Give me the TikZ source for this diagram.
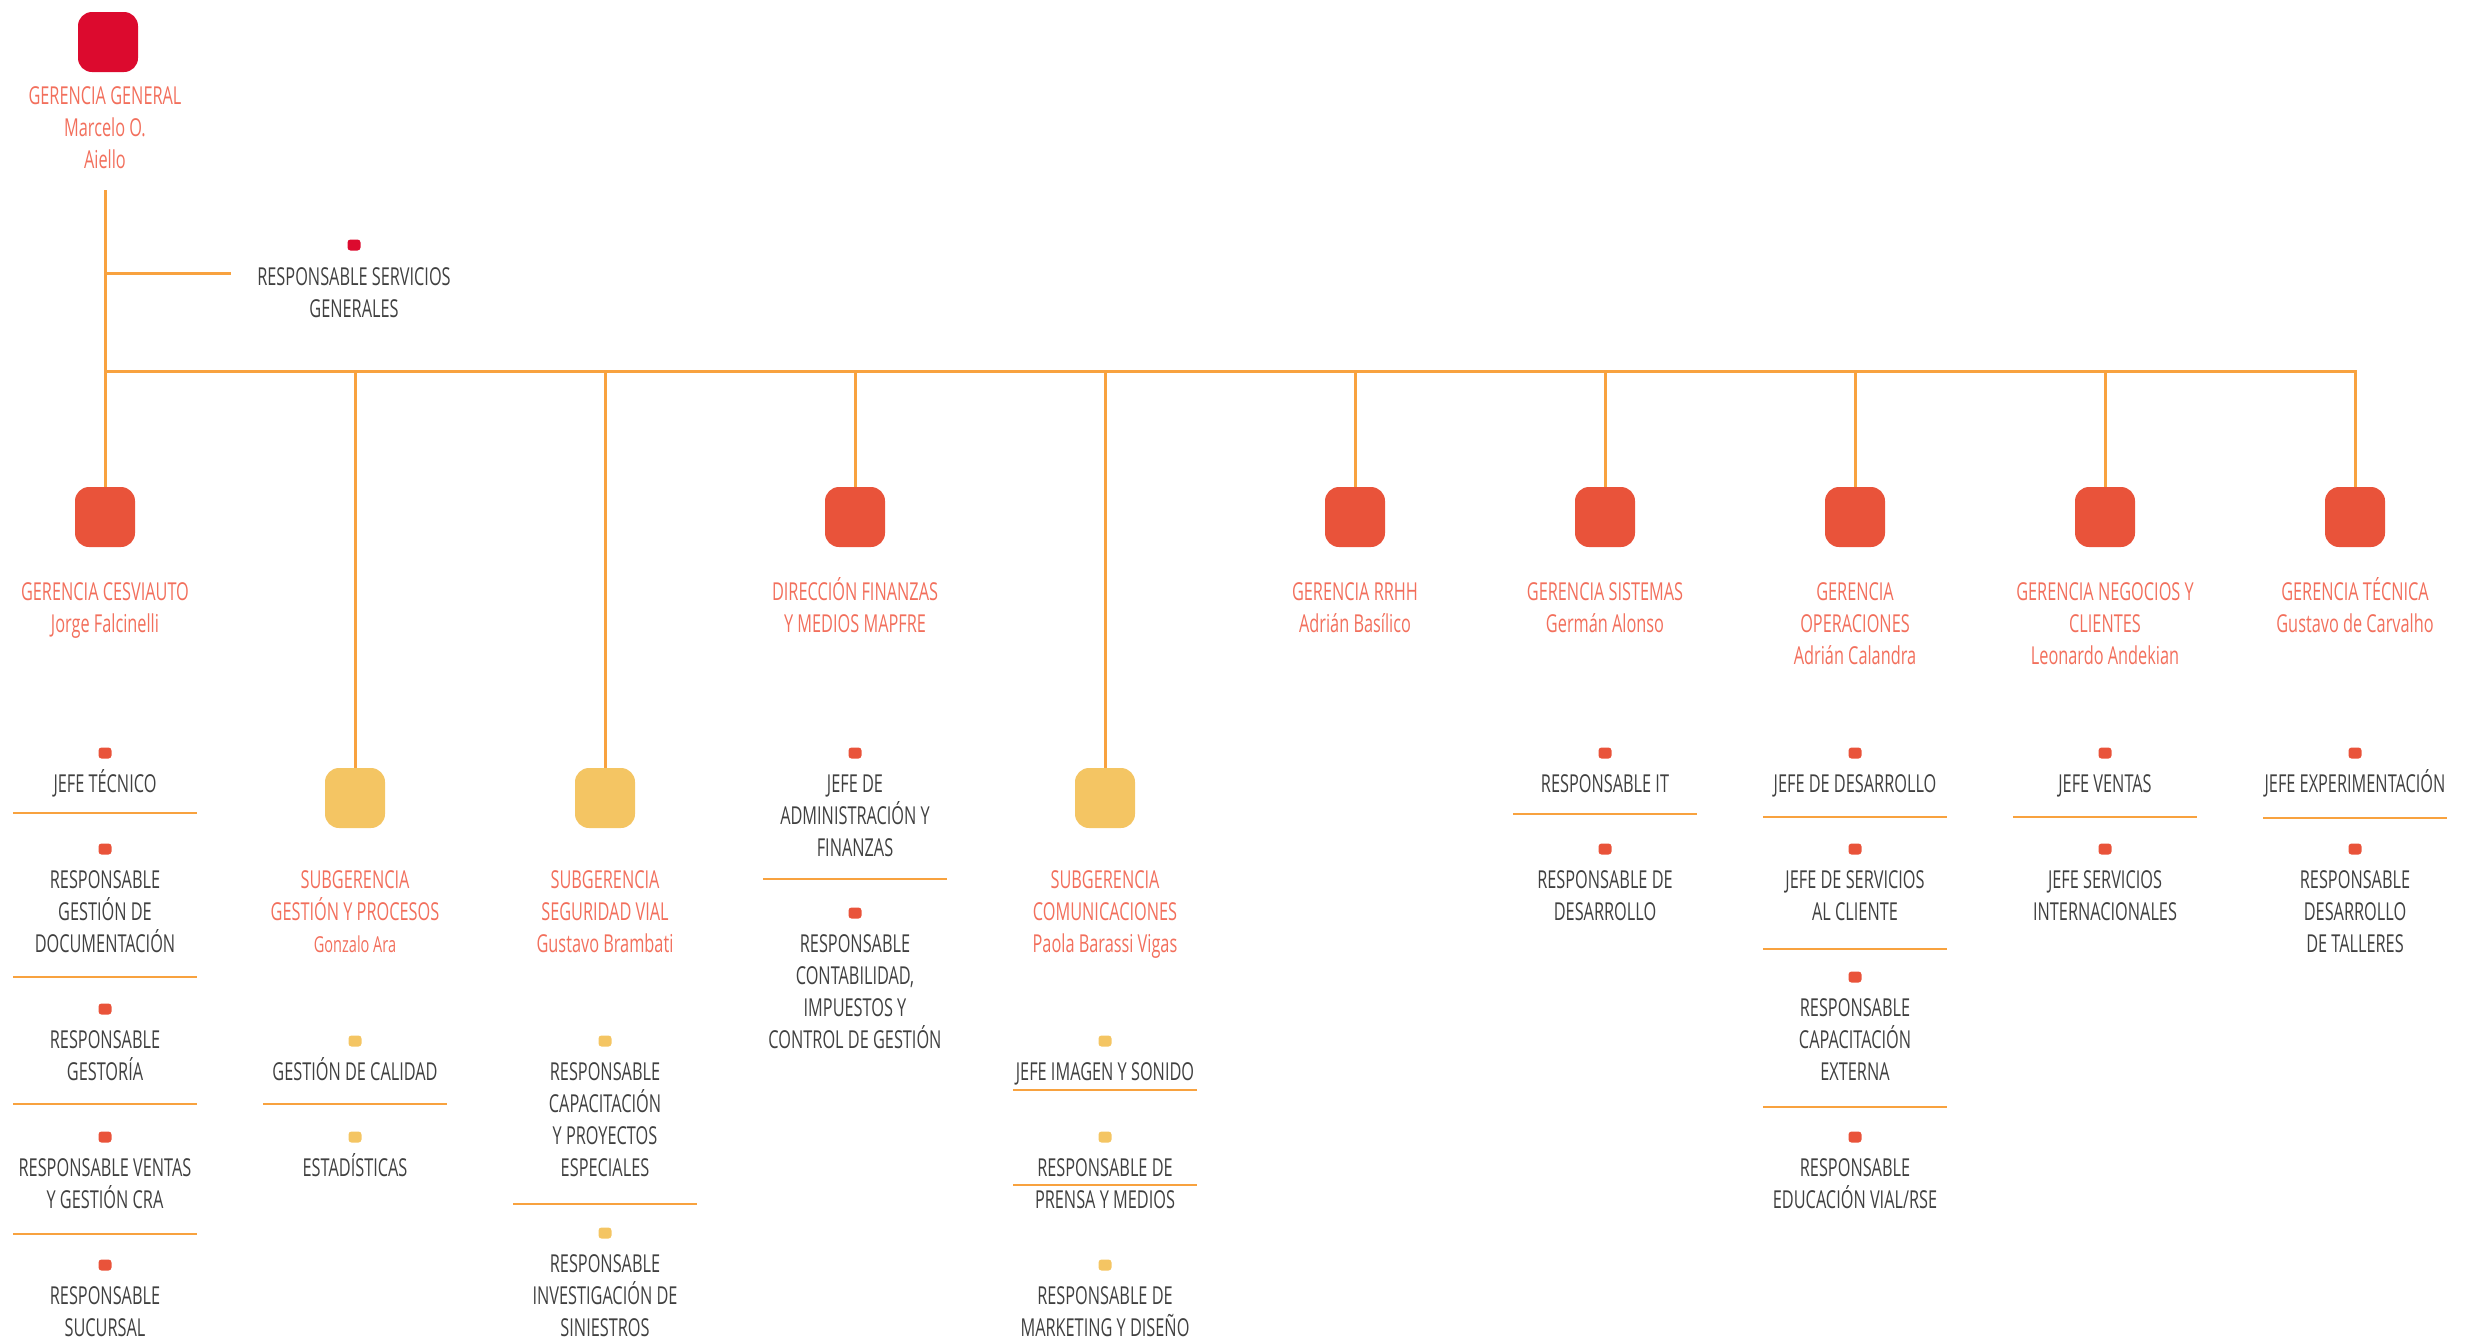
\documentclass[tikz,border=0pt]{standalone}
\usepackage{fontspec}
\setmainfont{Open Sans}[FakeStretch=0.66]
\usetikzlibrary{positioning}

\definecolor{crimson}{HTML}{DC0A2E}
\definecolor{brick}{HTML}{E9533A}
\definecolor{sand}{HTML}{F4C563}
\definecolor{salmon}{HTML}{F26F5C}
\definecolor{wire}{HTML}{F8A23F}
\definecolor{ink}{HTML}{404040}

% strut that fixes the top of the first line
\newcommand\lead{\rule{0pt}{13pt}}

\begin{document}
\begin{tikzpicture}[
  x=0.5pt, y=-0.5pt,
  unitbox/.style={rounded corners=7pt, minimum size=30pt, inner sep=0pt, fill=brick},
  subbox/.style={unitbox, fill=sand},
  pip/.style={rounded corners=1.5pt, minimum width=6.5pt, minimum height=5.5pt, inner sep=0pt, fill=brick},
  txt/.style={anchor=north, yshift=8.6pt, align=center, inner sep=0pt, text=ink,
    font=\fontsize{12.35}{16}\selectfont},
  title/.style={txt, text=salmon},
  link/.style={wire, line width=1.5pt},
  divider/.style={wire, line width=1pt}
  ]
  \useasboundingbox (0,0) rectangle (2484,1340);

  % top of the chart
  \node[unitbox, fill=crimson] (gg) at (108,42) {};
  \node[title] (ggtxt) at (105,95) {\lead GERENCIA GENERAL\\Marcelo O.\\Aiello};
  \coordinate (root) at (105,190);
  \coordinate (bus) at (105,371);

  % staff position
  \coordinate (sgtap) at (105,273);
  \coordinate (sgend) at (231,273);
  \node[pip, fill=crimson] (sgpip) at (354,245) {};
  \node[txt] (sgtxt) at (354,276) {\lead RESPONSABLE SERVICIOS\\GENERALES};

  % second level
  \node[unitbox] (cesv) at (105,517) {};
  \node[title] at (105,591) {\lead GERENCIA CESVIAUTO\\Jorge Falcinelli};
  \node[subbox] (gyp) at (355,798) {};
  \node[title] at (355,879) {\lead SUBGERENCIA\\GESTIÓN Y PROCESOS\\{\fontsize{11}{16}\selectfont Gonzalo Ara}};
  \node[subbox] (svial) at (605,798) {};
  \node[title] at (605,879) {\lead SUBGERENCIA\\SEGURIDAD VIAL\\Gustavo Brambati};
  \node[unitbox] (fin) at (855,517) {};
  \node[title] at (855,591) {\lead DIRECCIÓN FINANZAS\\Y MEDIOS MAPFRE};
  \node[subbox] (com) at (1105,798) {};
  \node[title] at (1105,879) {\lead SUBGERENCIA\\COMUNICACIONES\\Paola Barassi Vigas};
  \node[unitbox] (rrhh) at (1355,517) {};
  \node[title] at (1355,591) {\lead GERENCIA RRHH\\Adrián Basílico};
  \node[unitbox] (sis) at (1605,517) {};
  \node[title] at (1605,591) {\lead GERENCIA SISTEMAS\\Germán Alonso};
  \node[unitbox] (ope) at (1855,517) {};
  \node[title] at (1855,591) {\lead GERENCIA\\OPERACIONES\\Adrián Calandra};
  \node[unitbox] (neg) at (2105,517) {};
  \node[title] at (2105,591) {\lead GERENCIA NEGOCIOS Y\\CLIENTES\\Leonardo Andekian};
  \node[unitbox] (tec) at (2355,517) {};
  \node[title] at (2355,591) {\lead GERENCIA TÉCNICA\\Gustavo de Carvalho};

  % connectors
  \draw[link] (root) -- (cesv.north);
  \draw[link] (sgtap) -- (sgend);
  \draw[link] (bus) -- (tec.north |- bus) -- (tec.north);
  \foreach \n in {gyp, svial, fin, com, rrhh, sis, ope, neg}
    \draw[link] (\n.north |- bus) -- (\n.north);

  % positions under each area
  \foreach \y/\t [count=\i] in {753/{JEFE TÉCNICO},
      849/{RESPONSABLE\\GESTIÓN DE\\DOCUMENTACIÓN},
      1009/{RESPONSABLE\\GESTORÍA},
      1137/{RESPONSABLE VENTAS\\Y GESTIÓN CRA},
      1265/{RESPONSABLE\\SUCURSAL}} {
    \node[pip] (cesvp\i) at (105,\y) {};
    \node[txt] (cesvt\i) at (105,\y+30) {\lead\t};
  }
  \foreach \y/\t [count=\i] in {1041/{GESTIÓN DE CALIDAD}, 1137/{ESTADÍSTICAS}} {
    \node[pip, fill=sand] (gypp\i) at (355,\y) {};
    \node[txt] (gypt\i) at (355,\y+30) {\lead\t};
  }
  \foreach \y/\t [count=\i] in {1041/{RESPONSABLE\\CAPACITACIÓN\\Y PROYECTOS\\ESPECIALES},
      1233/{RESPONSABLE\\INVESTIGACIÓN DE\\SINIESTROS}} {
    \node[pip, fill=sand] (svialp\i) at (605,\y) {};
    \node[txt] (svialt\i) at (605,\y+30) {\lead\t};
  }
  \foreach \y/\t [count=\i] in {753/{JEFE DE\\ADMINISTRACIÓN Y\\FINANZAS},
      913/{RESPONSABLE\\CONTABILIDAD,\\IMPUESTOS Y\\CONTROL DE GESTIÓN}} {
    \node[pip] (finp\i) at (855,\y) {};
    \node[txt] (fint\i) at (855,\y+30) {\lead\t};
  }
  \foreach \y/\t [count=\i] in {1041/{JEFE IMAGEN Y SONIDO},
      1137/{RESPONSABLE DE\\PRENSA Y MEDIOS},
      1265/{RESPONSABLE DE\\MARKETING Y DISEÑO}} {
    \node[pip, fill=sand] (comp\i) at (1105,\y) {};
    \node[txt] (comt\i) at (1105,\y+30) {\lead\t};
  }
  \foreach \y/\t [count=\i] in {753/{RESPONSABLE IT}, 849/{RESPONSABLE DE\\DESARROLLO}} {
    \node[pip] (sisp\i) at (1605,\y) {};
    \node[txt] (sist\i) at (1605,\y+30) {\lead\t};
  }
  \foreach \y/\t [count=\i] in {753/{JEFE DE DESARROLLO},
      849/{JEFE DE SERVICIOS\\AL CLIENTE},
      977/{RESPONSABLE\\CAPACITACIÓN\\EXTERNA},
      1137/{RESPONSABLE\\EDUCACIÓN VIAL/RSE}} {
    \node[pip] (opep\i) at (1855,\y) {};
    \node[txt] (opet\i) at (1855,\y+30) {\lead\t};
  }
  \foreach \y/\t [count=\i] in {753/{JEFE VENTAS}, 849/{JEFE SERVICIOS\\INTERNACIONALES}} {
    \node[pip] (negp\i) at (2105,\y) {};
    \node[txt] (negt\i) at (2105,\y+30) {\lead\t};
  }
  \foreach \y/\t [count=\i] in {753/{JEFE EXPERIMENTACIÓN}, 849/{RESPONSABLE\\DESARROLLO\\DE TALLERES}} {
    \node[pip] (tecp\i) at (2355,\y) {};
    \node[txt] (tect\i) at (2355,\y+30) {\lead\t};
  }

  % separators between positions
  \foreach \x/\y in {105/813, 105/977, 105/1104, 105/1234, 355/1104, 605/1204,
      855/879, 1105/1090, 1105/1185, 1605/814, 1855/817, 1855/949, 1855/1107,
      2105/817, 2355/818}
    \draw[divider] (\x-92,\y) -- (\x+92,\y);

\end{tikzpicture}
\end{document}
